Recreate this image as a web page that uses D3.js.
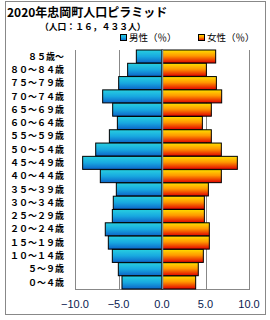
<!DOCTYPE html>
<html lang="ja">
  <head>
    <meta charset="UTF-8">
    <title>2020年忠岡町人口ピラミッド</title>
    <style>
      body { margin: 0; background: #fff; }
      svg { display: block; font-family: 'Noto Sans CJK JP', sans-serif; }
    </style>
  </head>
  <body>
    <div id="chart"></div>
    <script src="https://d3js.org/d3.v7.min.js"></script>
    <script>
      const ages = ['８５歳～', '８０～８４歳', '７５～７９歳', '７０～７４歳', '６５～６９歳', '６０～６４歳',
        '５５～５９歳', '５０～５４歳', '４５～４９歳', '４０～４４歳', '３５～３９歳', '３０～３４歳',
        '２５～２９歳', '２０～２４歳', '１５～１９歳', '１０～１４歳', '５～９歳', '０～４歳'];
      const male = [2.95, 3.95, 4.98, 6.82, 5.67, 5.13, 6.05, 7.62, 9.12, 7.09,
        5.25, 5.6, 5.71, 6.52, 6.17, 5.71, 5.02, 4.6];
      const female = [6.17, 5.1, 6.25, 6.86, 5.67, 4.64, 5.67, 6.82, 8.66, 6.82,
        5.33, 4.87, 4.87, 5.44, 5.44, 4.75, 4.17, 3.87];
      const ticks = [-10, -5, 0, 5, 10];

      const width = 270, height = 320;
      const plot = { left: 75, right: 249, top: 50, bottom: 289 };

      const svg = d3.select('#chart').append('svg')
        .attr('width', width)
        .attr('height', height);

      const defs = svg.append('defs');
      const grad = (id, stops) => {
        const g = defs.append('linearGradient').attr('id', id)
          .attr('x1', 0).attr('y1', 0).attr('x2', 0).attr('y2', 1);
        stops.forEach(([o, c]) => g.append('stop').attr('offset', o).attr('stop-color', c));
      };
      grad('gm', [[0, '#28d0e0'], [0.5, '#18a8e0'], [1, '#0c64c8']]);
      grad('gf', [[0, '#ffe000'], [0.45, '#ff9800'], [1, '#e00000']]);

      // outer frame
      svg.append('rect')
        .attr('x', 5.5).attr('y', 1.5)
        .attr('width', 260).attr('height', 313)
        .attr('fill', 'none').attr('stroke', '#888');

      const x = d3.scaleLinear().domain([-10, 10]).range([plot.left, plot.right]);
      const y = d3.scaleBand().domain(ages).range([plot.top, plot.bottom]).paddingInner(0.02);

      // gridlines
      svg.append('g').selectAll('line')
        .data(ticks.filter(t => t !== 0))
        .join('line')
        .attr('x1', d => Math.round(x(d)) + 0.5).attr('x2', d => Math.round(x(d)) + 0.5)
        .attr('y1', plot.top).attr('y2', plot.bottom)
        .attr('stroke', '#888');
      svg.append('line')
        .attr('x1', plot.left).attr('x2', plot.right + 1)
        .attr('y1', plot.bottom + 0.5).attr('y2', plot.bottom + 0.5)
        .attr('stroke', '#888');

      // bars
      svg.append('g').selectAll('rect')
        .data(male)
        .join('rect')
        .attr('x', d => x(-d))
        .attr('y', (d, i) => y(ages[i]))
        .attr('width', d => x(0) - x(-d))
        .attr('height', y.bandwidth())
        .attr('fill', 'url(#gm)')
        .attr('stroke', '#000').attr('stroke-width', 1);
      svg.append('g').selectAll('rect')
        .data(female)
        .join('rect')
        .attr('x', x(0))
        .attr('y', (d, i) => y(ages[i]))
        .attr('width', d => x(d) - x(0))
        .attr('height', y.bandwidth())
        .attr('fill', 'url(#gf)')
        .attr('stroke', '#000').attr('stroke-width', 1);

      // zero line
      svg.append('line')
        .attr('x1', Math.round(x(0)) + 0.5).attr('x2', Math.round(x(0)) + 0.5)
        .attr('y1', plot.top).attr('y2', plot.bottom)
        .attr('stroke', '#6f8fa0').attr('stroke-width', 1.5);

      // category labels
      svg.append('g').selectAll('text')
        .data(ages)
        .join('text')
        .attr('x', 64)
        .attr('y', d => y(d) + y.bandwidth() / 2)
        .attr('dy', '0.35em')
        .attr('text-anchor', 'end')
        .attr('font-size', 9)
        .attr('font-weight', 'bold')
        .attr('fill', '#000')
        .text(d => d);

      // x tick labels
      svg.append('g').selectAll('text')
        .data(ticks)
        .join('text')
        .attr('x', d => x(d))
        .attr('y', 304)
        .attr('dy', '0.35em')
        .attr('text-anchor', 'middle')
        .attr('font-family', 'Arial, "Liberation Sans", sans-serif')
        .attr('font-size', 11)
        .attr('fill', '#0a1a50')
        .text(d => (d < 0 ? '−' : '') + Math.abs(d).toFixed(1));

      // titles
      svg.append('text')
        .attr('x', 7).attr('y', 13).attr('dy', '0.35em')
        .attr('font-size', 12).attr('font-weight', 'bold')
        .text('2020年忠岡町人口ピラミッド');
      svg.append('text')
        .attr('x', 40).attr('y', 26.5).attr('dy', '0.35em')
        .attr('font-size', 8.8).attr('font-weight', 'bold')
        .text('（人口：１６，４３３人）');

      // legend
      const legend = [['男性（％）', 'url(#gm)', 120], ['女性（％）', 'url(#gf)', 198]];
      const lg = svg.append('g').selectAll('g').data(legend).join('g')
        .attr('transform', d => `translate(${d[2]},38)`);
      lg.append('rect')
        .attr('x', 0.5).attr('y', -3.5).attr('width', 6).attr('height', 6)
        .attr('fill', d => d[1]).attr('stroke', '#000');
      lg.append('text')
        .attr('x', 9).attr('dy', '0.35em')
        .attr('font-size', 9.5)
        .text(d => d[0]);
    </script>
  </body>
</html>
